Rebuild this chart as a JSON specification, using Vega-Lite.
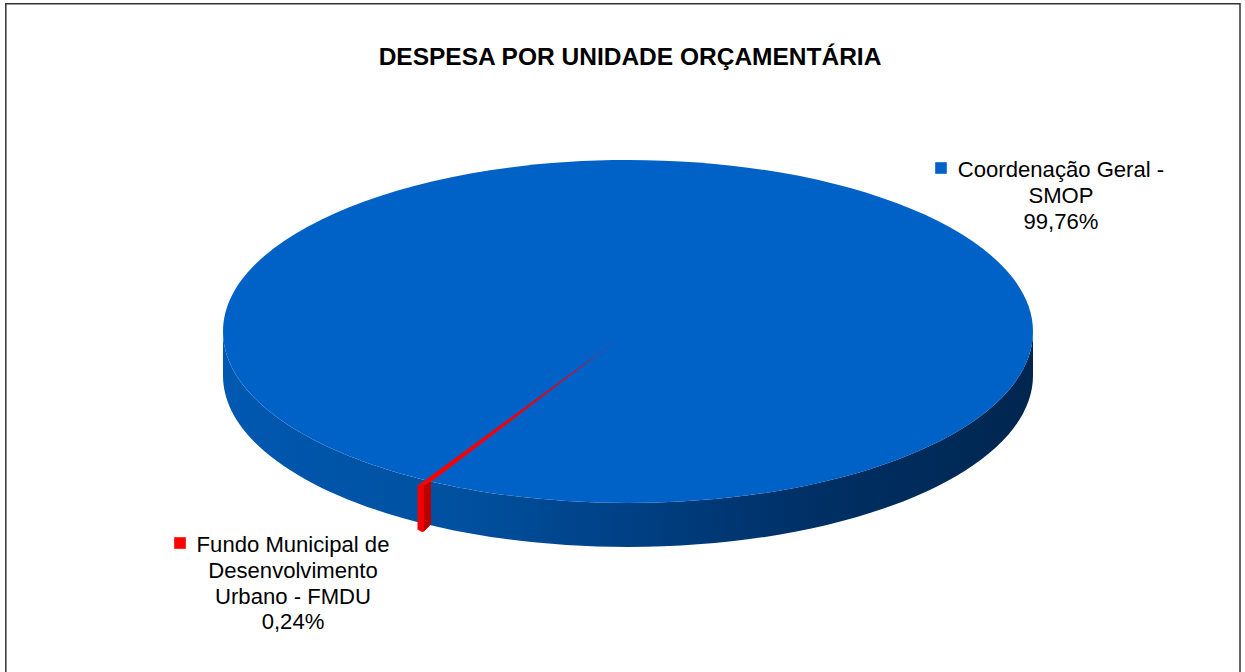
{"$schema":"https://vega.github.io/schema/vega-lite/v6.json","width":1245,"height":672,"padding":0,"autosize":{"type":"none"},"background":"white","view":{"stroke":null},"title":{"text":"DESPESA POR UNIDADE ORÇAMENTÁRIA","font":"Liberation Sans","fontSize":24.5,"fontWeight":"bold","color":"#000000","anchor":"middle","dx":7.5,"dy":74},"data":{"values":[{"unidade":"Coordenação Geral - SMOP","percentual":99.76,"label":"Coordenação Geral -\nSMOP\n99,76%"},{"unidade":"Fundo Municipal de Desenvolvimento Urbano - FMDU","percentual":0.24,"label":"Fundo Municipal de\nDesenvolvimento\nUrbano - FMDU\n0,24%"}]},"encoding":{"x":{"datum":628,"type":"quantitative","scale":{"domain":[0,1245],"nice":false,"zero":false},"axis":null},"y":{"datum":331.5,"type":"quantitative","scale":{"domain":[672,0],"nice":false,"zero":false},"axis":null}},"layer":[{"transform":[{"filter":"datum.percentual > 50"}],"mark":{"type":"rect","fill":null,"stroke":"#333333","strokeWidth":1.5,"clip":false},"encoding":{"x":{"datum":5.8,"type":"quantitative"},"x2":{"datum":1240},"y":{"datum":3.8,"type":"quantitative"},"y2":{"datum":690}}},{"transform":[{"filter":"datum.percentual > 50"}],"mark":{"type":"point","filled":true,"size":4,"strokeWidth":0,"opacity":1,"shape":"M-405 0A405 171.5 0 0 0 405 0L405 44A405 171.5 0 0 1 -405 44Z","fill":{"gradient":"linear","x1":0,"x2":1,"y1":0,"y2":0,"stops":[{"offset":0,"color":"#0058B0"},{"offset":0.3,"color":"#00509F"},{"offset":0.5,"color":"#004084"},{"offset":0.72,"color":"#003066"},{"offset":1,"color":"#00264F"}]}}},{"transform":[{"filter":"datum.percentual > 50"}],"mark":{"type":"point","filled":true,"size":4,"strokeWidth":0,"opacity":1,"color":"#0062C6","shape":"M-405 0A405 171.5 0 1 1 405 0A405 171.5 0 1 1 -405 0Z"}},{"transform":[{"filter":"datum.percentual < 50"}],"mark":{"type":"point","filled":true,"size":4,"strokeWidth":0,"opacity":1,"shape":"M0 0L-209.5 153.5L-204 154.5L-197 150.5Z","fill":{"gradient":"linear","x1":0,"x2":1,"y1":1,"y2":0,"stops":[{"offset":0,"color":"#FF0000"},{"offset":0.4,"color":"#F00008"},{"offset":0.75,"color":"#B01840"},{"offset":1,"color":"#0062C6"}]}}},{"transform":[{"filter":"datum.percentual < 50"}],"mark":{"type":"point","filled":true,"size":4,"strokeWidth":0,"opacity":1,"color":"#B80000","shape":"M-204 154L-197 150L-197 193L-204 200Z"}},{"transform":[{"filter":"datum.percentual < 50"}],"mark":{"type":"point","filled":true,"size":4,"strokeWidth":0,"opacity":1,"color":"#F00000","shape":"M-210.5 153.5L-204 153.5L-204 200L-206 200.5L-210.5 198Z"}},{"transform":[{"filter":"datum.percentual > 50"}],"mark":{"type":"square","size":135,"color":"#0062C6","opacity":1},"encoding":{"x":{"datum":941,"type":"quantitative"},"y":{"datum":168,"type":"quantitative"}}},{"transform":[{"filter":"datum.percentual < 50"}],"mark":{"type":"square","size":135,"color":"#FF0000","opacity":1},"encoding":{"x":{"datum":180,"type":"quantitative"},"y":{"datum":543,"type":"quantitative"}}},{"transform":[{"filter":"datum.percentual > 50"}],"mark":{"type":"text","font":"Liberation Sans","fontSize":22.1,"color":"#000000","align":"center","baseline":"middle","lineBreak":"\n","lineHeight":26},"encoding":{"x":{"datum":1061,"type":"quantitative"},"y":{"datum":169.5,"type":"quantitative"},"text":{"field":"label"}}},{"transform":[{"filter":"datum.percentual < 50"}],"mark":{"type":"text","font":"Liberation Sans","fontSize":22.1,"color":"#000000","align":"center","baseline":"middle","lineBreak":"\n","lineHeight":25.8},"encoding":{"x":{"datum":293,"type":"quantitative"},"y":{"datum":545,"type":"quantitative"},"text":{"field":"label"}}}]}
